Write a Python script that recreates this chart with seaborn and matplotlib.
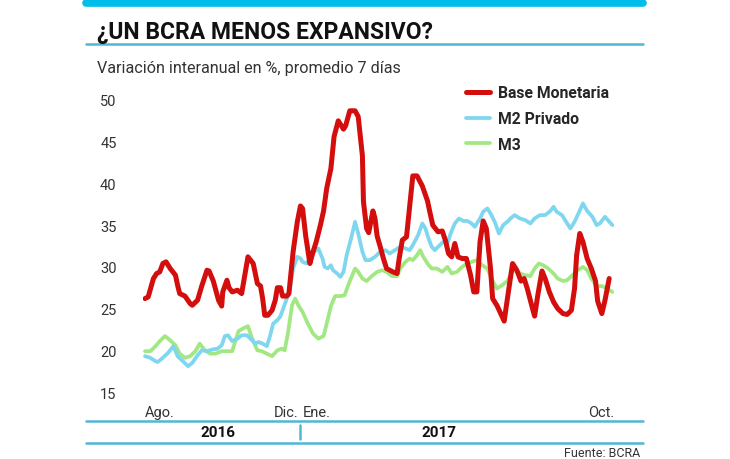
import matplotlib
matplotlib.use("Agg")
import matplotlib.pyplot as plt
import pandas as pd
import seaborn as sns
from matplotlib.lines import Line2D

START = pd.Timestamp("2016-07-18")

# days since START, value (% interanual)
base_days = [0, 3, 8, 11, 14, 17, 20, 24, 29, 31, 33, 38, 43, 45, 50, 54, 59, 61, 65, 70,
             73, 74, 78, 80, 83, 88, 92, 95, 98, 103, 107, 110, 112, 114, 117, 121, 124, 126, 129, 131,
             135, 137, 141, 145, 148, 150, 153, 157, 160, 163, 167, 170, 173, 177, 180, 184, 189, 191, 195, 200,
             203, 207, 208, 211, 213, 217, 219, 221, 224, 227, 230, 233, 236, 240, 242, 245, 249, 252, 255, 259,
             264, 269, 271, 274, 279, 283, 286, 289, 292, 295, 298, 302, 306, 310, 313, 316, 319, 322, 325, 329,
             331, 335, 338, 342, 346, 350, 354, 358, 361, 364, 369, 371, 374, 378, 381, 385, 389, 393, 398, 402,
             406, 409, 411, 414, 417, 421, 425, 429, 431, 435, 438, 442]
base_vals = [26.2, 26.4, 28.6, 29.2, 29.4, 30.4, 30.6, 29.8, 29.0, 27.8, 26.8, 26.5, 25.6, 25.4, 26.0, 27.7, 29.6, 29.5, 28.3, 26.0,
             25.3, 27.0, 28.4, 27.5, 27.0, 27.2, 26.8, 29.0, 31.2, 30.4, 28.0, 27.7, 26.2, 24.2, 24.2, 24.8, 26.0, 27.5, 27.5, 26.5,
             26.5, 26.8, 31.8, 35.4, 37.3, 37.0, 33.7, 30.4, 31.8, 33.0, 35.0, 36.7, 39.4, 41.8, 45.6, 47.5, 46.5, 46.9, 48.7, 48.7,
             48.0, 43.3, 37.8, 34.6, 34.1, 36.7, 35.8, 33.7, 32.4, 31.0, 29.8, 29.6, 29.4, 29.2, 31.0, 33.2, 33.6, 37.3, 40.9, 40.9,
             39.7, 37.9, 36.7, 35.0, 34.2, 34.3, 33.2, 31.6, 31.2, 32.8, 31.2, 31.0, 31.0, 29.0, 27.0, 27.0, 33.0, 35.5, 34.6, 29.8,
             26.2, 25.4, 24.6, 23.5, 27.0, 30.4, 29.6, 28.3, 28.6, 27.4, 25.0, 24.1, 26.6, 29.5, 28.6, 27.0, 25.8, 25.0, 24.4, 24.3,
             24.8, 27.4, 31.4, 34.0, 33.0, 31.0, 29.8, 28.3, 25.9, 24.4, 26.0, 28.6]

m2_days = [0, 5, 10, 12, 16, 22, 27, 31, 36, 41, 45, 50, 54, 59, 64, 69, 73, 76, 79, 83,
           88, 92, 97, 102, 105, 108, 112, 116, 119, 122, 126, 129, 131, 135, 138, 141, 145, 148, 150, 154,
           158, 161, 165, 169, 171, 174, 177, 179, 183, 186, 189, 192, 197, 200, 203, 207, 210, 214, 219, 224,
           229, 233, 238, 243, 248, 252, 255, 260, 264, 267, 270, 273, 276, 279, 284, 288, 291, 295, 299, 303,
           307, 311, 314, 319, 322, 326, 329, 333, 337, 341, 346, 348, 352, 357, 362, 367, 371, 376, 381, 386,
           389, 392, 397, 401, 405, 409, 412, 417, 421, 426, 430, 433, 438, 445]
m2_vals = [19.3, 19.1, 18.7, 18.6, 19.0, 19.7, 20.5, 19.3, 18.7, 18.1, 18.5, 19.4, 20.0, 19.9, 20.1, 20.2, 20.6, 21.7, 21.8, 21.1,
           21.4, 21.8, 21.8, 21.2, 20.8, 21.0, 20.8, 20.5, 21.7, 23.2, 23.6, 24.1, 24.8, 26.2, 27.4, 29.8, 31.2, 31.0, 30.6, 30.4,
           31.4, 31.8, 32.2, 31.0, 30.0, 29.8, 30.2, 29.6, 29.2, 28.8, 29.4, 31.4, 33.8, 35.4, 34.0, 31.8, 30.8, 30.8, 31.2, 31.8,
           32.0, 31.6, 32.0, 32.4, 32.2, 32.0, 32.6, 33.8, 35.2, 34.6, 33.4, 32.4, 32.0, 32.4, 33.0, 32.8, 34.0, 35.2, 35.8, 35.5,
           35.5, 35.2, 34.8, 35.8, 36.6, 37.0, 36.4, 35.4, 34.0, 35.0, 35.5, 35.8, 36.2, 35.8, 35.6, 35.2, 35.8, 36.2, 36.2, 36.7,
           37.2, 36.6, 36.2, 35.4, 34.6, 35.4, 36.2, 37.6, 36.7, 36.0, 35.0, 35.2, 36.0, 35.0]

m3_days = [0, 5, 10, 14, 19, 24, 29, 33, 38, 43, 48, 52, 57, 62, 67, 73, 78, 83, 86, 89,
           93, 98, 102, 107, 111, 116, 121, 126, 130, 133, 136, 140, 143, 146, 150, 155, 160, 165, 170, 173,
           177, 181, 186, 190, 195, 200, 203, 207, 211, 216, 221, 226, 230, 235, 240, 243, 248, 252, 255, 259,
           262, 265, 269, 273, 278, 283, 288, 292, 297, 302, 307, 311, 316, 321, 326, 330, 335, 340, 345, 348,
           352, 357, 362, 367, 371, 375, 379, 384, 389, 393, 398, 402, 407, 412, 417, 421, 425, 430, 435, 440, 445]
m3_vals = [19.9, 19.9, 20.5, 21.1, 21.7, 21.2, 20.6, 19.6, 19.1, 19.3, 19.9, 20.8, 20.0, 19.6, 19.6, 19.9, 19.9, 19.9, 21.1, 22.3,
           22.6, 22.9, 21.4, 20.0, 19.9, 19.6, 19.3, 20.0, 20.2, 20.0, 22.0, 25.4, 26.2, 25.4, 24.6, 23.2, 22.0, 21.4, 21.7, 23.2,
           25.3, 26.5, 26.5, 26.6, 28.3, 29.8, 29.4, 28.6, 28.3, 28.9, 29.4, 29.6, 29.4, 28.9, 28.9, 29.8, 30.6, 31.0, 30.8, 31.4,
           32.0, 31.2, 30.4, 29.8, 29.8, 29.4, 30.0, 29.2, 29.4, 30.0, 30.4, 30.6, 30.8, 30.2, 29.8, 28.6, 27.4, 27.8, 28.3, 29.0,
           29.8, 29.2, 29.0, 28.9, 29.8, 30.4, 30.2, 29.8, 29.2, 28.6, 28.3, 28.4, 29.0, 29.6, 30.0, 29.6, 28.6, 27.7, 27.7, 27.4, 27.0]

series_names = ["Base Monetaria", "M2 Privado", "M3"]
y_ticks = [15, 20, 25, 30, 35, 40, 45, 50]
x_tick_days = [14, 134, 163, 434]
x_tick_labels = ["Ago.", "Dic.", "Ene.", "Oct."]
years = ["2016", "2017"]

RED = "#d40d0d"
BLUE = "#7fd6ef"
GREEN = "#a2e882"
CYAN = "#00bdec"
LINE = "#52b5d6"
FONT = "Roboto"


def to_frame(days, vals, name):
    return pd.DataFrame({
        "fecha": START + pd.to_timedelta(days, unit="D"),
        "valor": vals,
        "serie": name,
    })


def main():
    sns.set_theme(style="white")
    plt.rcParams["font.family"] = [FONT, "DejaVu Sans"]

    fig = plt.figure(figsize=(7.3, 4.6), dpi=100)
    ax = fig.add_axes([0.1958, 0.1274, 0.6459, 0.6713])

    frames = [to_frame(base_days, base_vals, series_names[0]),
              to_frame(m2_days, m2_vals, series_names[1]),
              to_frame(m3_days, m3_vals, series_names[2])]
    styles = [(GREEN, 2.7, frames[2]), (BLUE, 2.7, frames[1]), (RED, 3.6, frames[0])]
    for color, lw, df in styles:
        sns.lineplot(data=df, x="fecha", y="valor", color=color, linewidth=lw,
                     ax=ax, label=df["serie"].iloc[0], solid_capstyle="round")

    ax.set_xlim(START - pd.Timedelta(days=2), START + pd.Timedelta(days=447))
    ax.set_ylim(14, 51)
    ax.set_yticks(y_ticks)
    ax.set_yticklabels([str(v) for v in y_ticks])
    ax.set_xticks([START + pd.Timedelta(days=d) for d in x_tick_days])
    ax.set_xticklabels(x_tick_labels)
    ax.tick_params(axis="y", length=0, pad=19, labelsize=10.5, labelcolor="#333333")
    ax.tick_params(axis="x", length=0, pad=3, labelsize=10.5, labelcolor="#333333")
    ax.set_xlabel("")
    ax.set_ylabel("")
    sns.despine(ax=ax, left=True, bottom=True)

    handles, labels = ax.get_legend_handles_labels()
    order = [labels.index(n) for n in series_names]
    leg = ax.legend([handles[i] for i in order], [labels[i] for i in order],
                    loc="upper left", frameon=False,
                    prop={"family": FONT, "weight": "bold", "size": 11.3},
                    handlelength=1.55, handletextpad=0.5, labelspacing=0.68,
                    borderaxespad=0, borderpad=0)
    leg.set_bbox_to_anchor((0.6385, 0.812), transform=fig.transFigure)

    # header
    fig.add_artist(Line2D([86 / 730, 643 / 730], [1 - 3.5 / 460] * 2, color=CYAN, lw=5.5))
    fig.text(97 / 730, 1 - 32 / 460, "¿UN BCRA MENOS EXPANSIVO?", fontsize=16.5,
             fontweight="bold", color="#111111", va="center", ha="left")
    fig.add_artist(Line2D([86 / 730, 643 / 730], [1 - 44.5 / 460] * 2, color=LINE, lw=1.8))
    fig.text(97 / 730, 1 - 68 / 460, "Variación interanual en %, promedio 7 días",
             fontsize=11.6, color="#333333", va="center", ha="left")

    # footer
    fig.add_artist(Line2D([86 / 730, 643 / 730], [1 - 421.5 / 460] * 2, color=LINE, lw=1.8))
    fig.add_artist(Line2D([86 / 730, 643 / 730], [1 - 443.5 / 460] * 2, color=LINE, lw=1.8))
    fig.add_artist(Line2D([300 / 730] * 2, [1 - 426 / 460, 1 - 440 / 460], color=LINE, lw=1.8))
    fig.text(218 / 730, 1 - 433 / 460, years[0], fontsize=11, fontweight="bold",
             color="#111111", ha="center", va="center")
    fig.text(439 / 730, 1 - 433 / 460, years[1], fontsize=11, fontweight="bold",
             color="#111111", ha="center", va="center")
    fig.text(640 / 730, 1 - 454 / 460, "Fuente: BCRA", fontsize=9,
             color="#333333", ha="right", va="center")

    fig.savefig("out.png", dpi=100, facecolor="white")
    plt.close(fig)


if __name__ == "__main__":
    main()
